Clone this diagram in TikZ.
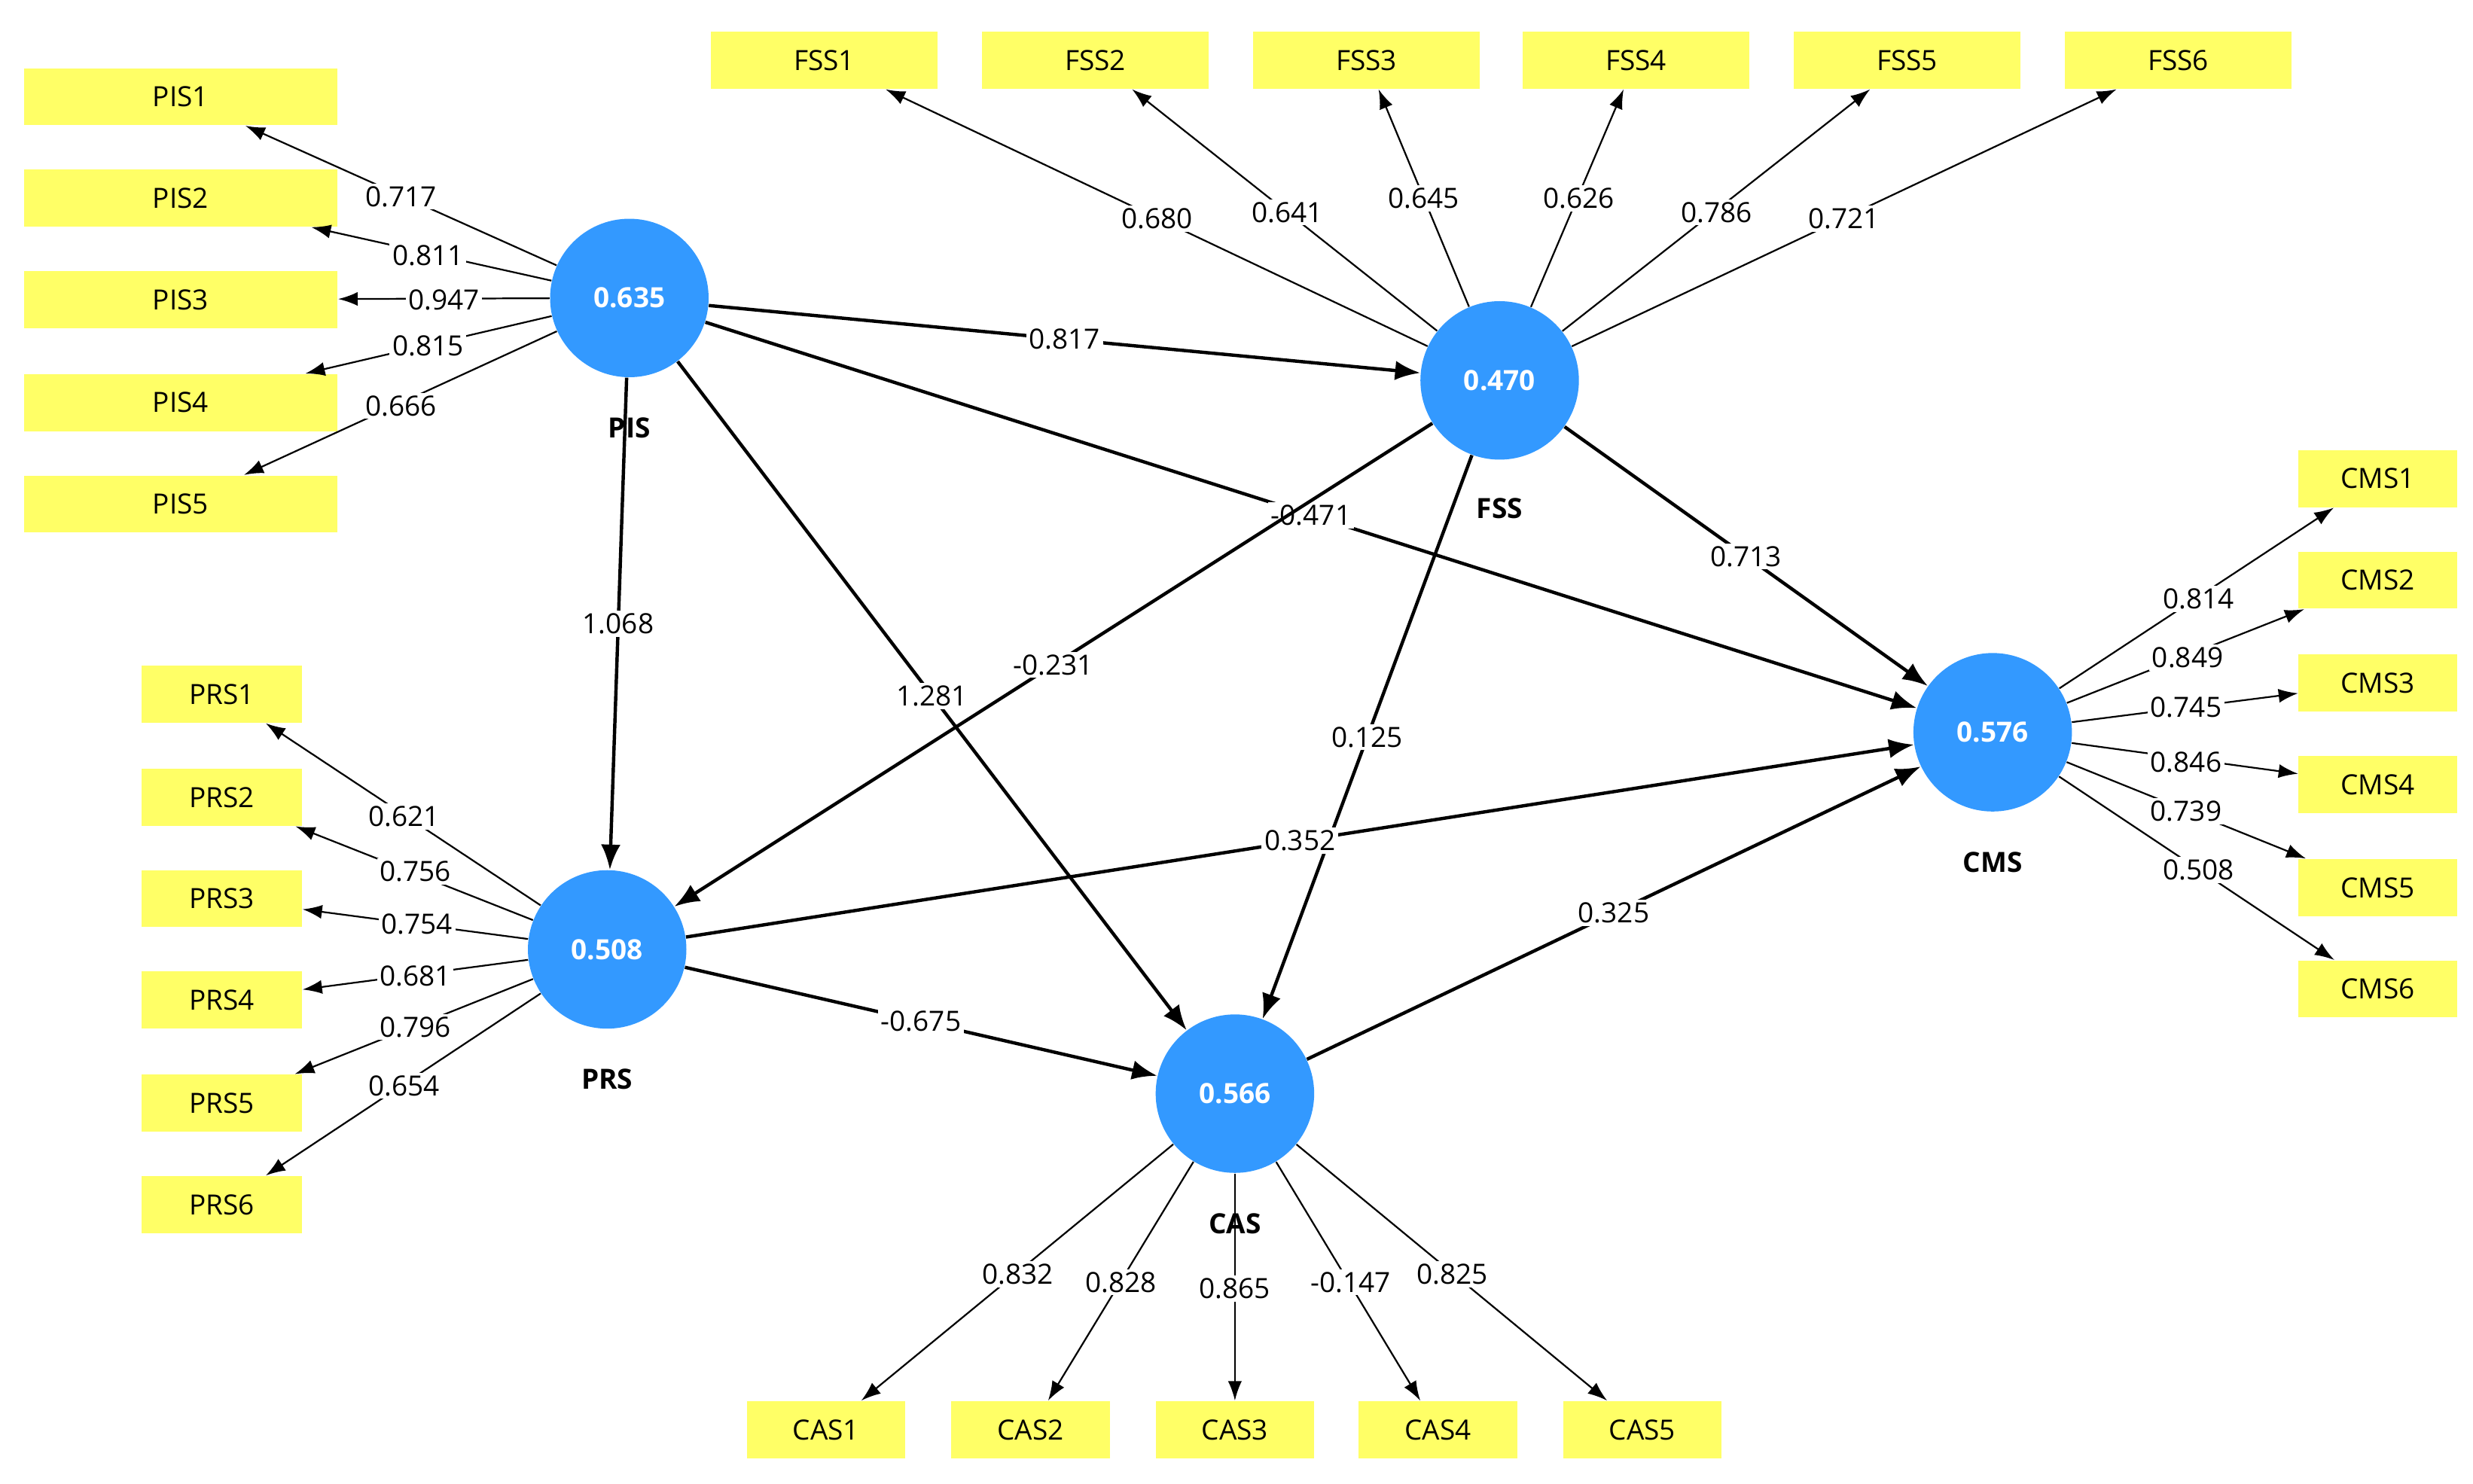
\documentclass[tikz,border=0pt]{standalone}
\usepackage{fontspec}
\setmainfont{Open Sans}
\usetikzlibrary{arrows.meta}
\definecolor{lv}{RGB}{51,153,255}
\definecolor{ind}{RGB}{255,255,102}
\begin{document}
\begin{tikzpicture}[x=0.02cm,y=-0.02cm,
 lat/.style={circle,fill=lv,minimum size=2cm,inner sep=0pt,text=white,font=\bfseries\fontsize{10}{12}\selectfont},
 latname/.style={font=\bfseries\fontsize{10}{12}\selectfont},
 box/.style={fill=ind,minimum height=0.72cm,inner sep=0pt,font=\fontsize{10}{12}\selectfont},
 outer/.style={-{Latex[length=7pt,width=5pt]},line width=0.6pt},
 inner/.style={-{Latex[length=9pt,width=7pt]},line width=1.2pt},
 lbl/.style={fill=white,inner sep=1pt,font=\fontsize{10}{12}\selectfont}]
\useasboundingbox (0,0) rectangle (1560,936);
% latent
\node[lat] (PIS) at (397,188) {0.635};
\node[lat] (FSS) at (946,240) {0.470};
\node[lat] (PRS) at (383,599) {0.508};
\node[lat] (CAS) at (779,690) {0.566};
\node[lat] (CMS) at (1257,462) {0.576};
\node[latname] at (397,270) {PIS};
\node[latname] at (946,321) {FSS};
\node[latname] at (383,681) {PRS};
\node[latname] at (779,772) {CAS};
\node[latname] at (1257,544) {CMS};
% indicator boxes
\foreach \i/\y in {1/61,2/125,3/189,4/254,5/318}
  \node[box,minimum width=3.96cm] (PIS\i) at (114,\y) {PIS\i};
\foreach \i/\x in {1/520,2/691,3/862,4/1032,5/1203,6/1374}
  \node[box,minimum width=2.86cm] (FSS\i) at (\x,38) {FSS\i};
\foreach \i/\y in {1/438,2/503,3/567,4/631,5/696,6/760}
  \node[box,minimum width=2.02cm] (PRS\i) at (140,\y) {PRS\i};
\foreach \i/\y in {1/302,2/366,3/431,4/495,5/560,6/624}
  \node[box,minimum width=2.0cm] (CMS\i) at (1500,\y) {CMS\i};
\foreach \i/\x in {1/521,2/650,3/779,4/907,5/1036}
  \node[box,minimum width=2.0cm] (CAS\i) at (\x,902) {CAS\i};
% outer arrows
\foreach \s/\i/\lx/\ly/\v in {PIS/1/253/124/0.717,PIS/2/270/161/0.811,PIS/3/280/189/0.947,PIS/4/270/218/0.815,PIS/5/253/256/0.666,
 FSS/1/730/138/0.680,FSS/2/812/134/0.641,FSS/3/898/125/0.645,FSS/4/996/125/0.626,FSS/5/1083/134/0.786,FSS/6/1163/138/0.721,
 PRS/1/255/515/0.621,PRS/2/262/550/0.756,PRS/3/263/583/0.754,PRS/4/262/616/0.681,PRS/5/262/648/0.796,PRS/6/255/685/0.654,
 CMS/1/1387/378/0.814,CMS/2/1380/415/0.849,CMS/3/1379/446/0.745,CMS/4/1379/481/0.846,CMS/5/1379/512/0.739,CMS/6/1387/549/0.508,
 CAS/1/642/804/0.832,CAS/2/707/809/0.828,CAS/3/779/813/0.865,CAS/4/852/809/-0.147,CAS/5/916/804/0.825}
 {\draw[outer] (\s) -- (\s\i);
  \node[lbl] (L\s\i) at (\lx,\ly) {\v};}
% inner arrows
\foreach \a/\b/\v in {PIS/FSS/0.817,PIS/CMS/-0.471,PIS/PRS/1.068,PIS/CAS/1.281,FSS/PRS/-0.231,FSS/CAS/0.125,FSS/CMS/0.713,PRS/CMS/0.352,PRS/CAS/-0.675,CAS/CMS/0.325}
 \draw[inner] (\a) -- node[lbl,pos=0.5]{\v} (\b);
\end{tikzpicture}
\end{document}
